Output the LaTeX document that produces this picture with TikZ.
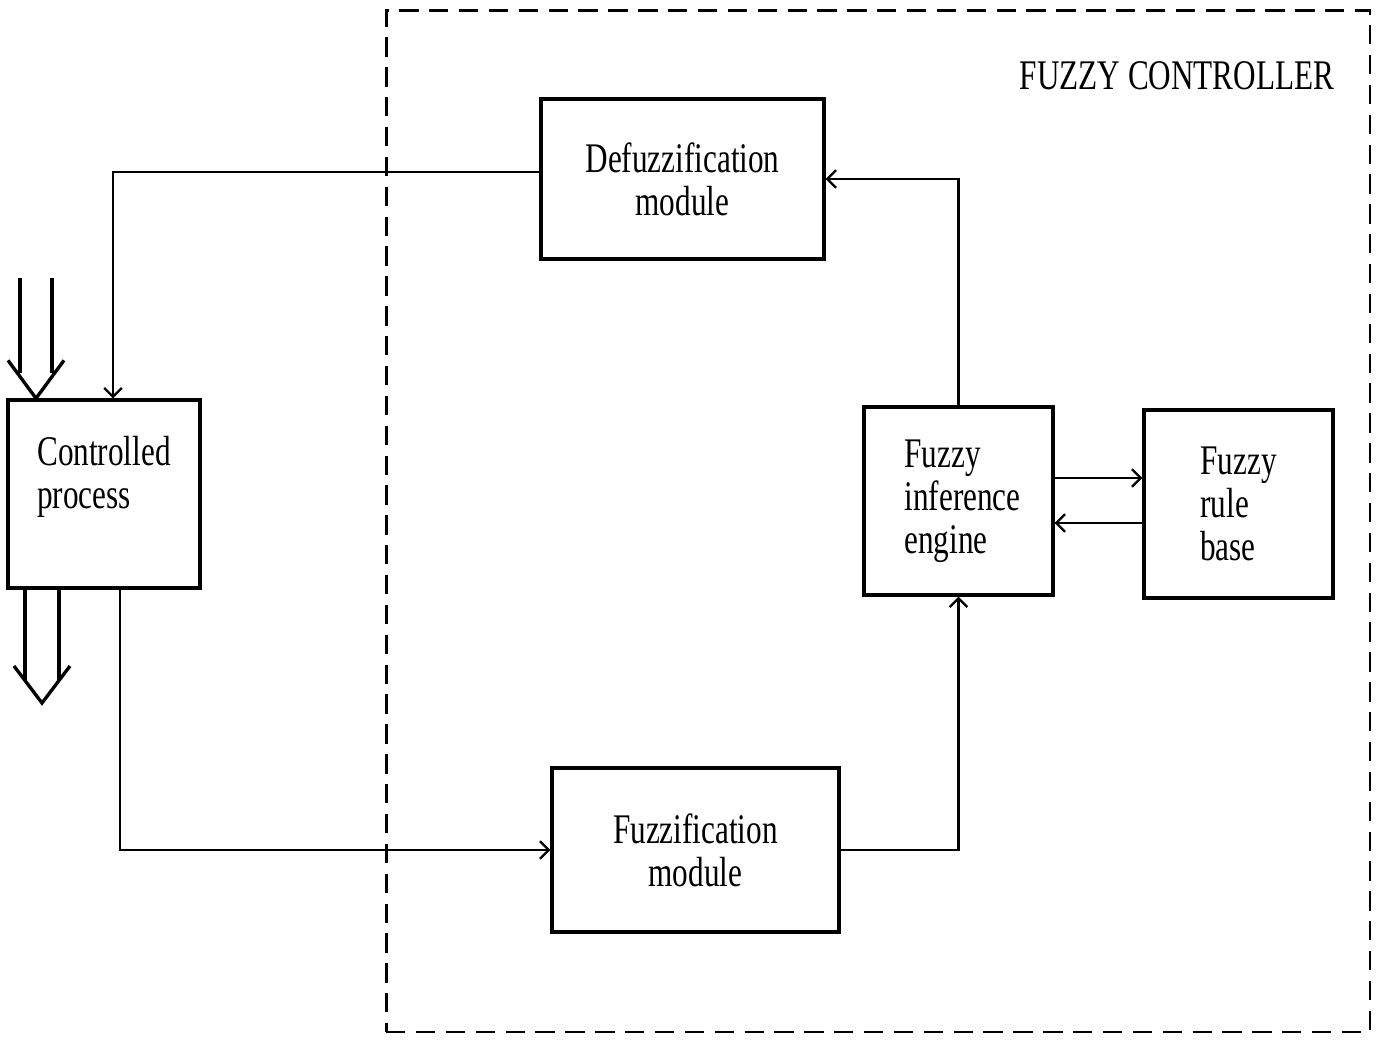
\documentclass[tikz,border=0pt]{standalone}
\usepackage{fontspec}
\setmainfont[FakeStretch=0.74]{Liberation Serif}
\usetikzlibrary{arrows.meta}
\usetikzlibrary{positioning}
\usetikzlibrary{calc}

\begin{document}
\begin{tikzpicture}[x=0.02cm, y=-0.02cm,
    block/.style={draw, line width=1.9pt, inner sep=0pt, font=\fontsize{24}{24.5}\selectfont},
    flow/.style={line width=1.4pt, -{Straight Barb[length=5pt,width=10pt,line width=1.3pt]}},
    hollow/.style={line width=1.9pt, line join=miter}]
            \useasboundingbox (0,0) rectangle (1376,1040);
            \node[draw, dashed, dash pattern=on 11pt off 6pt, line width=1.6pt,
                  minimum width=19.68cm, minimum height=20.44cm] (ctrl) at (878,521) {}; % controller frame
            \node[font=\fontsize{24}{24.5}\selectfont] (title) at (1177,76) {FUZZY CONTROLLER};
            \node[block, minimum width=5.66cm, minimum height=3.2cm, align=center]  (defuzz) at (682.5,179) {Defuzzification\\module};
            \node[block, minimum width=5.74cm, minimum height=3.28cm, align=center] (fuzz)   at (695.5,850) {Fuzzification\\module};
            \node[block, minimum width=3.78cm, minimum height=3.76cm, align=left]   (inf)    at (958.5,501) {\hspace*{0.16cm}Fuzzy\\\hspace*{0.16cm}inference\\\hspace*{0.16cm}engine};
            \node[block, minimum width=3.78cm, minimum height=3.76cm, align=left]   (rules)  at (1238.5,504) {Fuzzy\\rule\\base};
            \node[block, minimum width=3.84cm, minimum height=3.76cm, align=left]   (proc)   at (104,494) {Controlled\\process\\\mbox{}};
            \draw[flow] (inf.north) |- (defuzz.east);
            \draw[flow] ([yshift=0.14cm]defuzz.west) -| ([xshift=0.18cm]proc.north);
            \draw[flow] ([xshift=0.32cm]proc.south) |- (fuzz.west);
            \draw[flow] (fuzz.east) -| (inf.south);
            \draw[flow] ([yshift=0.46cm]inf.east) -- ([yshift=0.46cm]inf.east -| rules.west);
            \draw[flow] ([yshift=-0.38cm]rules.west) -- ([yshift=-0.38cm]rules.west -| inf.east);
            % input and output of the process
            \coordinate (in)  at (36,278);
            \coordinate (out) at (42,703);
            \draw[hollow] (in) ++(-16,0) -- ++(0,95) (in) ++(16,0) -- ++(0,95);
            \draw[hollow] (in |- proc.north) ++(-28,-38) -- ++(28,38) -- ++(28,-38);
            \draw[hollow] (out -| proc.south) ++(-79,-115) -- ++(0,92) ++(34,0) -- ++(0,-92);
            \draw[hollow] (out) ++(-28,-37) -- ++(28,37) -- ++(28,-37);
        \end{tikzpicture}
\end{document}
